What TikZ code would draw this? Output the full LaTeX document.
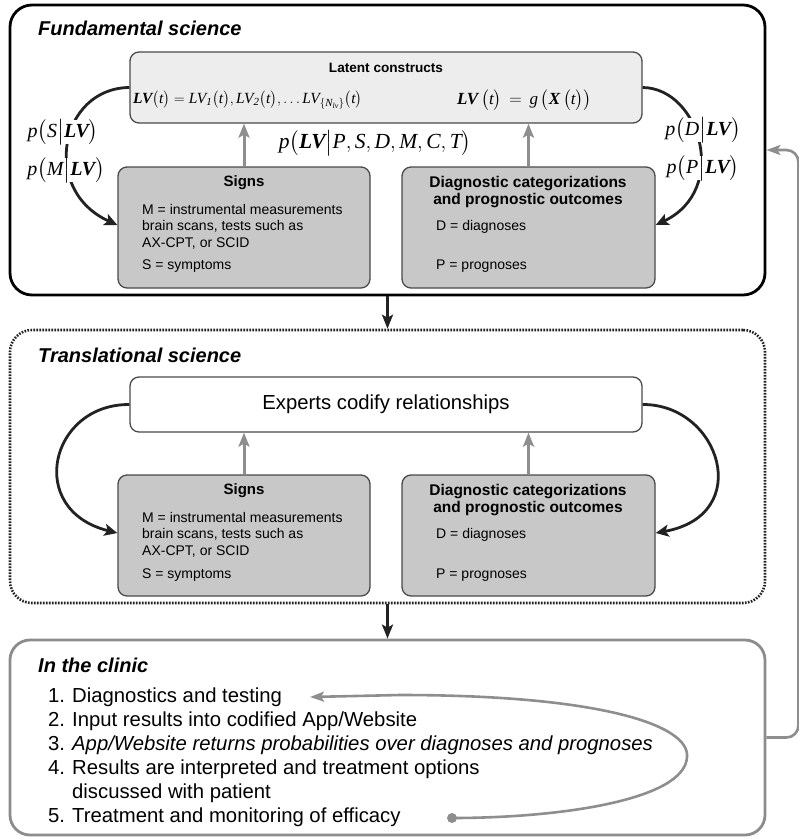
\documentclass[tikz,border=0pt]{standalone}
\usepackage{amsmath}
\usepackage{fontspec}
\setmainfont{Liberation Sans}
\newfontfamily\ser{Liberation Serif}
\usetikzlibrary{arrows.meta}
\definecolor{boxline}{HTML}{4A4A4A}
\definecolor{signfill}{HTML}{C8C8C8}
\definecolor{latfill}{HTML}{EDEDED}
\definecolor{garrow}{HTML}{8E8E8E}
\definecolor{darkc}{HTML}{222222}
\definecolor{clinline}{HTML}{8C8C8C}
\newcommand\iv[1]{\text{\ser\itshape #1}}
\newcommand\bv[1]{\text{\ser\bfseries\itshape #1}}
\newcommand\fs[1]{\fontsize{#1}{#1}\selectfont}
\tikzset{
  frame/.style={rounded corners=22pt, minimum width=755pt, inner sep=0pt},
  innerbox/.style={draw=boxline, line width=1.3pt, rounded corners=9pt, inner sep=0pt},
  signbox/.style={innerbox, fill=signfill, minimum width=252pt, minimum height=121pt},
  uparrow/.style={draw=garrow, line width=3pt, -{Stealth[length=14pt,width=11pt,inset=3pt]}},
  bcurve/.style={draw=darkc, line width=2.8pt, -{Stealth[length=13pt,width=12pt,inset=3pt]}},
  downarrow/.style={draw=darkc, line width=2.8pt, -{Stealth[length=14pt,width=11pt,inset=3pt]}},
  title/.style={anchor=west, inner sep=0pt, font=\fs{20}\bfseries\itshape},
  boxtitle/.style={inner sep=0pt, font=\fs{15}\bfseries},
  body/.style={anchor=west, inner sep=0pt, font=\fontsize{14}{16.5}\selectfont},
  lbl/.style={fill=white, inner sep=0pt, font=\fs{20}},
  item/.style={anchor=west, inner sep=0pt, font=\fs{20.3}, text height=14pt, text depth=4pt},
}
\begin{document}
\begin{tikzpicture}[x=1pt, y=-1pt]
\useasboundingbox (0,0) rectangle (799,839);
% ---------- frames
\node[frame, draw=black, line width=2.8pt, minimum height=290pt] (fund) at (387.5,150) {};
\node[frame, draw=darkc, line width=2.6pt, dash pattern=on 1.6pt off 1.4pt, minimum height=273pt] (trans) at (387.5,466.5) {};
\node[frame, draw=clinline, line width=2.8pt, minimum height=195pt, rounded corners=20pt] (clin) at (387.5,737.5) {};
% ---------- fundamental science
\node[title] (t1) at (38,28) {Fundamental science};
\node[innerbox, fill=latfill, minimum width=512pt, minimum height=71pt] (lat) at (386,87.5) {};
\node[boxtitle, font=\fs{13.6}\bfseries] (latt) at (386,68) {Latent constructs};
\node[anchor=west, inner sep=0pt, font=\fs{15.5}] (eq1) at (133,100)
  {$\bv{LV}\bigl(\iv{t}\bigr)=\iv{LV}_{\iv{1}}\bigl(\iv{t}\bigr),\iv{LV}_{\iv{2}}\bigl(\iv{t}\bigr),\ldots\iv{LV}_{\{\iv{N}_{\iv{lv}}\}}\bigl(\iv{t}\bigr)$};
\node[anchor=west, inner sep=0pt, font=\fs{17}] (eq2) at (457,100)
  {$\bv{LV}\,\bigl(\iv{t}\bigr)\,=\,\iv{g}\,\bigl(\bv{X}\,\bigl(\iv{t}\bigr)\bigr)$};
\node[signbox] (sg1) at (244,227.5) {};
\node[boxtitle] (sg1t) at (244,183) {Signs};
\node[body, align=left] (sg1m) at (142,226.5) {M = instrumental measurements\\brain scans, tests such as\\AX-CPT, or SCID};
\node[body] (sg1s) at (142,266) {S = symptoms};
\node[signbox, minimum width=253pt] (dg1) at (528.5,227.5) {};
\node[boxtitle, align=center, font=\fs{15.5}\bfseries] (dg1t) at (528,192) {Diagnostic categorizations\\[1pt]and prognostic outcomes};
\node[body] (dg1d) at (436,227) {D = diagnoses};
\node[body] (dg1p) at (436,266) {P = prognoses};
\draw[uparrow] (sg1.north) -- (sg1.north |- lat.south);
\draw[uparrow] (dg1.north) -- (dg1.north |- lat.south);
\node[inner sep=0pt, font=\fs{21.5}] (plv) at (375,143)
  {$\iv{p}\bigl(\bv{LV}\big|\iv{P},\iv{S},\iv{D},\iv{M},\iv{C},\iv{T}\bigr)$};
\draw[bcurve] (lat.west) .. controls (60,88) and (40,190) .. (sg1.west |- 0,225);
\draw[bcurve] (lat.east) .. controls (700,88) and (730,190) .. (dg1.east |- 0,225);
\node[lbl] (psl) at (63,132) {$\iv{p}\bigl(\iv{S}\big|\bv{LV}\bigr)$};
\node[lbl] (pml) at (66,170) {$\iv{p}\bigl(\iv{M}\big|\bv{LV}\bigr)$};
\node[lbl] (pdl) at (703,130) {$\iv{p}\bigl(\iv{D}\big|\bv{LV}\bigr)$};
\node[lbl] (ppl) at (703,168) {$\iv{p}\bigl(\iv{P}\big|\bv{LV}\bigr)$};
% ---------- translational science
\node[title] (t2) at (38,355) {Translational science};
\node[innerbox, fill=white, minimum width=512pt, minimum height=55pt] (exp) at (386,404.5) {};
\node[inner sep=0pt, font=\fs{20.3}] (expt) at (386,404) {Experts codify relationships};
\node[signbox] (sg2) at (244,535.5) {};
\node[boxtitle] (sg2t) at (244,491) {Signs};
\node[body, align=left] (sg2m) at (142,534.5) {M = instrumental measurements\\brain scans, tests such as\\AX-CPT, or SCID};
\node[body] (sg2s) at (142,575) {S = symptoms};
\node[signbox, minimum width=253pt] (dg2) at (528.5,535.5) {};
\node[boxtitle, align=center, font=\fs{15.5}\bfseries] (dg2t) at (528,500) {Diagnostic categorizations\\[1pt]and prognostic outcomes};
\node[body] (dg2d) at (436,535) {D = diagnoses};
\node[body] (dg2p) at (436,575) {P = prognoses};
\draw[uparrow] (sg2.north) -- (sg2.north |- exp.south);
\draw[uparrow] (dg2.north) -- (dg2.north |- exp.south);
\draw[bcurve] (exp.west) .. controls (50,404) and (25,510) .. (sg2.west |- 0,533);
\draw[bcurve] (exp.east) .. controls (720,404) and (755,515) .. (dg2.east |- 0,533);
% ---------- between frames
\draw[downarrow] (fund.south) -- (trans.north);
\draw[downarrow] (trans.south) -- (clin.north);
% ---------- clinic
\node[title] (t3) at (38,665) {In the clinic};
\node[item] (i1) at (48,697) {\makebox[24pt][l]{1.}Diagnostics and testing};
\node[item] (i2) at (48,721) {\makebox[24pt][l]{2.}Input results into codified App/Website};
\node[item] (i3) at (48,745) {\makebox[24pt][l]{3.}\textit{App/Website returns probabilities over diagnoses and prognoses}};
\node[item] (i4) at (48,769) {\makebox[24pt][l]{4.}Results are interpreted and treatment options};
\node[item] (i4b) at (48,793) {\makebox[24pt][l]{}discussed with patient};
\node[item] (i5) at (48,817) {\makebox[24pt][l]{5.}Treatment and monitoring of efficacy};
\coordinate (dot) at (452,818);
\fill[garrow] (dot) circle (5pt);
\draw[draw=garrow, line width=2.6pt, -{Stealth[length=14pt,width=10pt,inset=3pt]}]
  (dot) .. controls (560,818) and (685,800) .. (687,757)
  .. controls (690,725) and (600,695) .. (400,695) -- (i1.east -| 310,0);
\draw[draw=garrow, line width=2.6pt, rounded corners=12pt, -{Stealth[length=14pt,width=10pt,inset=3pt]}]
  (clin.east) -- ++(32,0) |- (fund.east);
\end{tikzpicture}
\end{document}
